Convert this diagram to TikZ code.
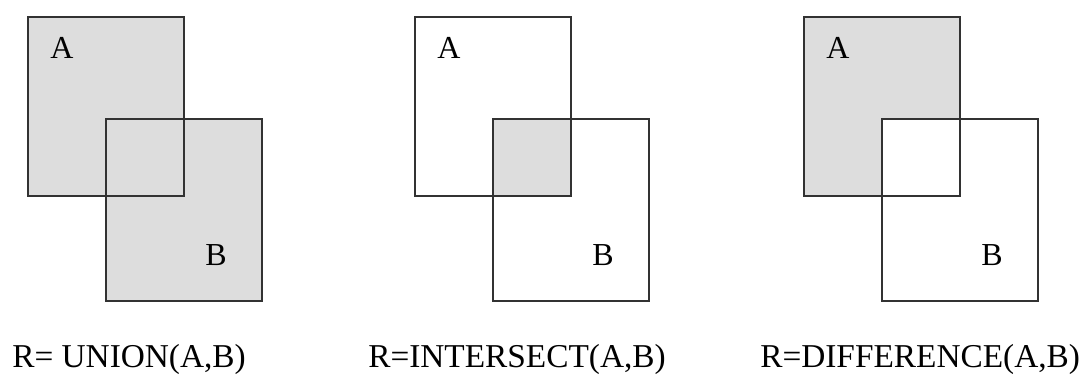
\documentclass[tikz,border=0pt]{standalone}
\usepackage{fontspec}
\setmainfont{Liberation Serif}
\usetikzlibrary{calc, math}
\definecolor{setgray}{RGB}{221,221,221}
\definecolor{edgegray}{RGB}{50,50,50}

\begin{document}
\begin{tikzpicture}[x=0.75pt,y=-0.75pt,
  setbox/.style={draw=edgegray,line width=1.1pt},
  setname/.style={font=\fontsize{24}{28}\selectfont,inner sep=0pt},
  opname/.style={font=\fontsize{25}{29}\selectfont,anchor=base west,inner sep=0pt}]
\tikzmath{
\W=156;
\Ha=179;
\Hb=182;
}
\useasboundingbox (0,0) rectangle (1090,375);

\foreach \n/\ox in {1/0,2/387,3/776}{
\coordinate (A\n) at (28+\ox,17);
\coordinate (B\n) at (106+\ox,119);
}

% union
\fill[setgray] (A1) rectangle ++(\W,\Ha);
\fill[setgray] (B1) rectangle ++(\W,\Hb);
% intersect
\fill[setgray] (B2) rectangle ($(A2)+(\W,\Ha)$);
% difference
\fill[setgray,even odd rule] (A3) rectangle ++(\W,\Ha) (B3) rectangle ($(A3)+(\W,\Ha)$);

\foreach \n in {1,2,3}{
\draw[setbox] (A\n) rectangle ++(\W,\Ha);
\draw[setbox] (B\n) rectangle ++(\W,\Hb);
\node[setname] (la\n) at ($(A\n)+(34,31)$) {A};
\node[setname] (lb\n) at ($(B\n)+(110,136)$) {B};
}

\node[opname] (op1) at (12,367) {R= UNION(A,B)};
\node[opname] (op2) at (368,367) {R=INTERSECT(A,B)};
\node[opname] (op3) at (760,367) {R=DIFFERENCE(A,B)};

\end{tikzpicture}
\end{document}
